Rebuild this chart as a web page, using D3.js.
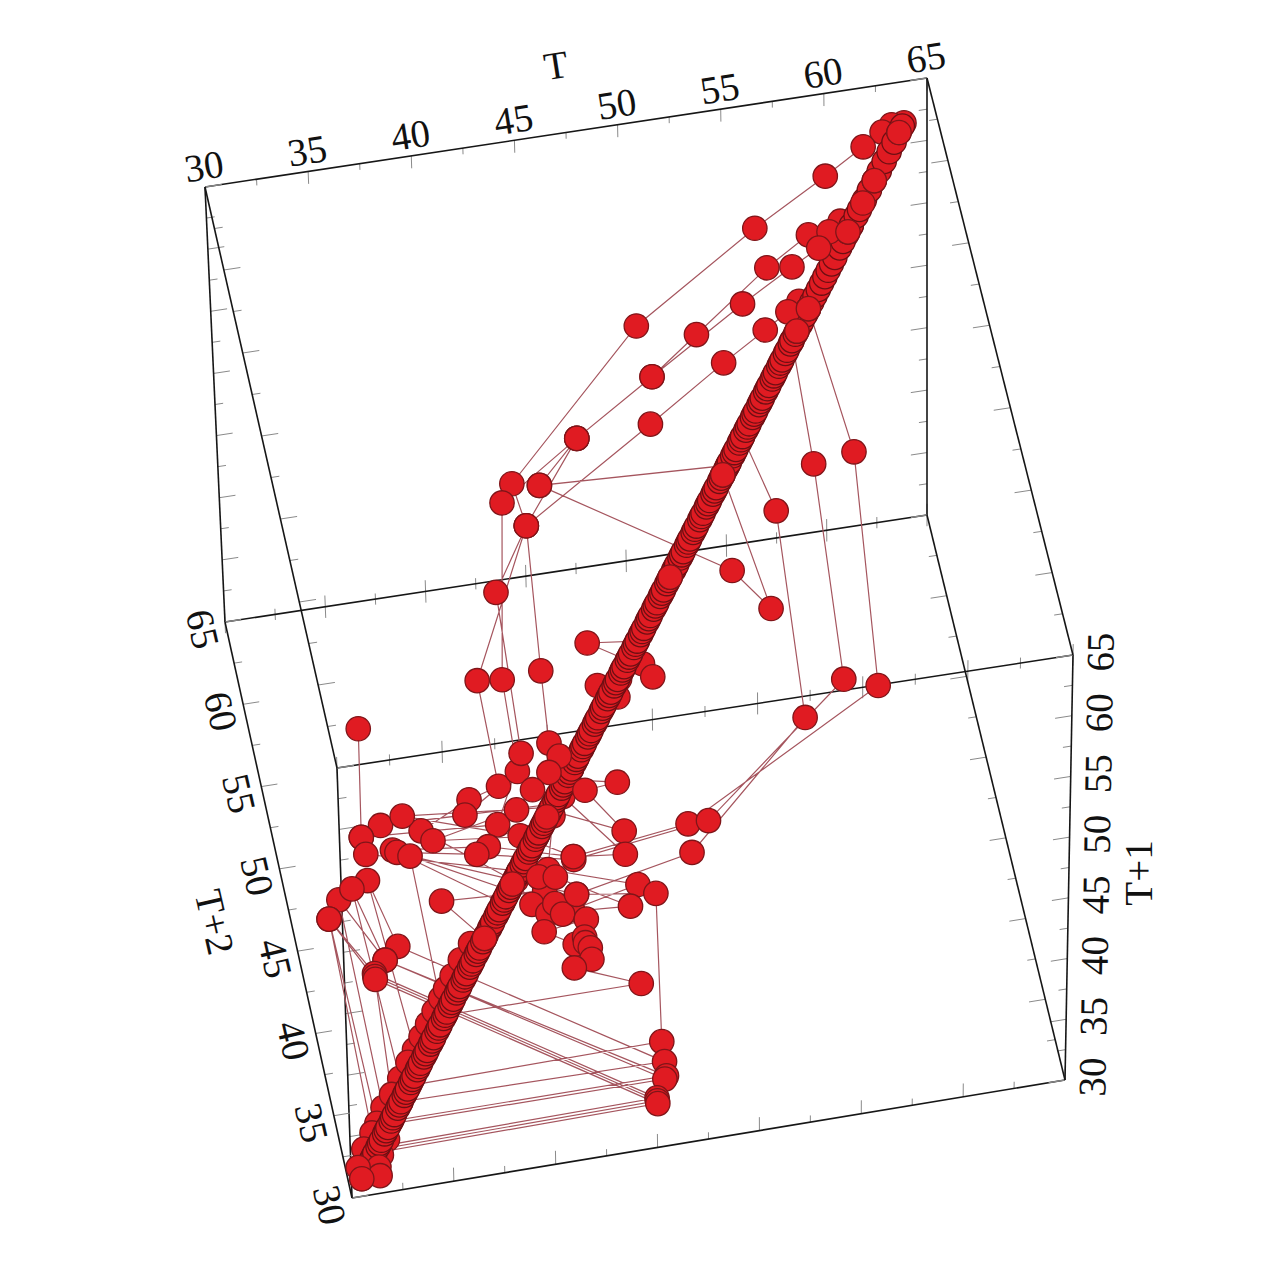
<!DOCTYPE html>
<html>
<head>
  <meta charset="utf-8">
  <title>Delay plot T, T+1, T+2</title>
  <script src="https://d3js.org/d3.v7.min.js"></script>
  <style>
    html, body { margin: 0; background: #fff; }
    text { font-family: "Liberation Serif", serif; fill: #111; text-anchor: middle; dominant-baseline: central; }
  </style>
</head>
<body>
<div id="chart"></div>

<script>
const majorTicks = [30, 35, 40, 45, 50, 55, 60, 65];
const minorTicks = [32.5, 37.5, 42.5, 47.5, 52.5, 57.5, 62.5];

// points lying on the diagonal T = T+1 = T+2
const diagonal = [30.6,30.8,30.9,31.0,31.2,31.3,31.4,31.6,31.7,31.8,32.0,32.1,32.2,32.4,32.5,32.6,32.8,32.9,33.0,33.2,33.3,33.4,33.6,33.7,33.8,34.0,34.1,34.2,34.4,34.5,34.6,34.8,34.9,35.0,35.2,35.3,35.4,35.6,35.7,35.8,36.0,36.1,36.2,36.4,36.5,36.6,36.8,36.9,37.0,37.2,37.3,37.4,37.6,37.7,37.8,38.0,38.1,38.2,38.4,38.5,38.6,38.8,38.9,39.0,39.2,39.3,39.4,39.6,39.7,39.8,40.0,40.1,40.2,40.4,40.5,40.6,40.8,40.9,41.0,41.2,41.3,41.4,41.6,41.7,41.8,42.0,42.1,42.2,42.4,42.5,42.6,42.8,42.9,43.0,43.2,43.3,43.4,43.6,43.7,43.8,44.0,44.1,44.2,44.4,44.5,44.6,44.8,44.9,45.0,45.2,45.3,45.4,45.6,45.7,45.8,46.0,46.1,46.2,46.4,46.5,46.6,46.8,46.9,47.0,47.2,47.3,47.4,47.6,47.7,47.8,48.0,48.1,48.2,48.4,48.5,48.6,48.8,48.9,49.0,49.2,49.3,49.4,49.6,49.7,49.8,50.0,50.1,50.2,50.4,50.5,50.6,50.8,50.9,51.0,51.2,51.3,51.4,51.6,51.7,51.8,52.0,52.1,52.2,52.4,52.5,52.6,52.8,52.9,53.0,53.2,53.3,53.4,53.6,53.7,53.8,54.0,54.1,54.2,54.4,54.5,54.6,54.8,54.9,55.0,55.2,55.3,55.4,55.6,55.7,55.8,56.0,56.1,56.2,56.4,56.5,56.7,56.8,57.0,57.1,57.3,57.4,57.6,57.8,58.0,58.2,58.4,58.6,58.8,59.0,59.2,59.4,59.7,59.9,60.2,60.4,60.7,60.9,61.2,61.5,61.8,62.1,62.4,62.7,63.0,63.3,63.5];

// diagonal points that sit in front of the rest of the band
const frontDiagonal = [38.1,39.8,41.9,49.4,52.6,57.1,57.8,60.2,61.1,61.8,63.3];

// the connected trajectory, in drawing order. A flat picture cannot give the depth
// of a point, so off the diagonal T+1 and T+2 are read as one value.
const tValues = [
  63.6,63.0,62.5,61.5,59.5,55.8,49.5,42.5,42.9,39.5,39.8,38.3,35.8,39.9,
  60.4,59.9,58.3,56.1,52.3,49.9,45.9,41.9,40.7,40.8,38.0,33.9,42.3,
  60.1,59.3,58.7,57.3,54.7,49.9,45.9,43.8,52.9,
  52.6,54.0,52.4,43.8,45.9,42.9,42.6,42.5,43.4,
  57.7,57.4,56.8,55.6,53.4,49.5,42.9,41.0,41.1,39.5,32.9,33.5,32.9,33.0,40.2,
  57.8,59.0,58.6,48.6,42.9,38.9,34.3,39.6,
  56.8,57.0,57.0,49.6,42.9,38.3,34.5,39.2,
  53.8,54.9,54.9,48.6,42.8,35.1,35.6,
  47.4,45.0,46.8,47.5,47.9,46.5,46.3,45.2,46.1,
  42.1,45.5,43.9,45.5,42.8,42.9,42.3,41.4,40.5,36.3,41.3,
  42.8,45.4,42.9,40.5,35.0,42.2,
  42.2,41.6,45.8,42.5,41.3,36.3,38.1,
  40.0,40.6,41.1,41.9,45.3,41.3,41.7,42.0,43.1,41.0,42.4,42.9,42.9,43.1,43.1,42.2,45.3,35.7,
  33.5,45.9,46.6,42.8,39.5,
  33.0,45.9,33.9,32.9,34.0,
  32.4,45.9,33.2,31.4,32.1,
  32.3,45.8,33.2,32.1,33.1,
  31.6,45.3,32.6,30.8,31.7,
  31.5,45.3,32.6,32.6,
  31.4,45.3,32.6,30.8,31.4,
  30.9,33.6,34.4,34.8,35.2,35.6,35.9,36.3,36.8,37.4,
  32.1,31.7,31.5,31.5,30.5,30.6
];
const tPlus1 = [
  63.6,63.6,63.4,63.0,62.2,60.8,58.1,53.4,51.9,46.9,43.2,42.9,42.1,39.9,
  60.4,60.6,60.3,59.4,57.5,56.3,54.6,52.8,46.8,43.6,42.4,42.5,42.3,
  60.1,60.3,59.8,59.3,58.3,56.3,54.6,53.2,52.9,
  52.6,47.8,49.3,53.2,54.6,51.9,46.9,44.4,43.4,
  57.7,58.1,57.8,57.3,56.4,54.7,51.9,49.8,44.2,41.9,42.2,45.9,42.2,41.6,40.2,
  57.8,52.7,44.6,40.9,40.4,41.2,41.6,39.6,
  56.8,52.5,45.0,40.9,40.3,41.0,41.5,39.2,
  53.8,51.1,43.9,39.9,39.1,41.3,35.8,
  47.4,47.6,46.8,46.6,46.1,46.5,46.2,46.1,45.6,
  42.1,41.0,42.6,42.7,43.1,43.9,43.4,42.9,42.3,41.7,41.3,
  42.5,40.2,40.4,41.4,42.7,42.2,
  41.9,40.1,39.1,38.6,39.4,39.6,38.1,
  39.9,39.0,39.9,39.8,38.4,38.6,38.9,38.5,38.2,38.0,37.4,37.6,37.4,37.2,36.8,36.6,35.7,35.7,
  33.5,33.6,38.7,39.1,39.5,
  33.0,32.9,38.3,40.7,34.7,
  32.4,32.4,37.9,40.2,32.9,
  32.3,32.3,37.9,40.5,33.8,
  31.6,31.7,37.5,39.6,32.4,
  31.5,31.6,37.4,33.3,
  31.4,31.5,37.3,39.6,32.1,
  31.6,34.3,35.1,35.5,35.9,36.3,36.6,37.0,37.5,38.0,
  31.8,31.3,30.9,30.6,31.0,30.6
];
const tPlus2 = tPlus1.slice();

const width = 1272, height = 1280;

// projected corners of the box, keyed by T, T+1, T+2 (0 = 30, 1 = 65)
const corners = {
  "000": [352, 1198], "100": [1065, 1080], "010": [337, 768], "110": [1073, 655],
  "001": [225, 622],  "101": [927, 515],   "011": [205, 187], "111": [927, 78]
};

const unit = d3.scaleLinear().domain([30, 65]).range([0, 1]);

function project(a, b, c) {
  const u = unit(a), v = unit(b), w = unit(c);
  let x = 0, y = 0;
  for (const key in corners) {
    const k = (key[0] == "1" ? u : 1 - u) * (key[1] == "1" ? v : 1 - v) * (key[2] == "1" ? w : 1 - w);
    x += k * corners[key][0];
    y += k * corners[key][1];
  }
  return [x, y];
}

const svg = d3.select("#chart").append("svg")
  .attr("width", width)
  .attr("height", height)
  .style("display", "block");

const frame = svg.append("g");

// one entry per box edge: axis that runs along it, fixed values of the other two,
// direction its ticks point in (index of the axis, sign, both sides or not)
const edges = [
  { axis: 0, fixed: [65, 65], dir: 1, sign: -1, len: 1 },
  { axis: 0, fixed: [30, 30], dir: 1, sign: 1, len: 1.1 },
  { axis: 0, fixed: [30, 65], dir: 1, sign: 1, len: 0.9, both: true },
  { axis: 0, fixed: [65, 30], dir: 1, sign: 1, len: 0.9, both: true },
  { axis: 1, fixed: [65, 30], dir: 0, sign: -1, len: 0.8 },
  { axis: 1, fixed: [65, 65], dir: 0, sign: -1, len: 0.8 },
  { axis: 1, fixed: [30, 30], dir: 0, sign: 1, len: 0.8 },
  { axis: 1, fixed: [30, 65], dir: 0, sign: 1, len: 0.8 },
  { axis: 2, fixed: [30, 30], dir: 0, sign: 1, len: 0.8 },
  { axis: 2, fixed: [65, 30], dir: 0, sign: -1, len: 0.8 },
  { axis: 2, fixed: [30, 65], dir: 0, sign: 1, len: 0.8 },
  { axis: 2, fixed: [65, 65], dir: 0, sign: -1, len: 0.8 }
];

function edgePoint(e, val, shift) {
  const p = [0, 0, 0];
  p[e.axis] = val;
  let i = 0;
  for (let k = 0; k < 3; k++) if (k != e.axis) p[k] = e.fixed[i++];
  p[e.dir] += shift;
  return project(p[0], p[1], p[2]);
}

edges.forEach(e => {
  [[majorTicks, 1], [minorTicks, 0.5]].forEach(([vals, f]) => {
    vals.forEach(val => {
      const a = edgePoint(e, val, e.sign * e.len * f);
      const b = edgePoint(e, val, e.both ? -e.sign * e.len * f : 0);
      frame.append("line")
        .attr("x1", a[0]).attr("y1", a[1]).attr("x2", b[0]).attr("y2", b[1])
        .attr("stroke", "#8a8a8a").attr("stroke-width", 1);
    });
  });
  const s = edgePoint(e, 30, 0), t = edgePoint(e, 65, 0);
  frame.append("line")
    .attr("x1", s[0]).attr("y1", s[1]).attr("x2", t[0]).attr("y2", t[1])
    .attr("stroke", "#161616").attr("stroke-width", 1.6);
});

// tick labels
const labels = svg.append("g").attr("font-size", 39);
const labelAxes = [
  { edge: edges[0], dx: -1, dy: -21, rot: -9 },
  { edge: edges[4], dx: 27, dy: -3, rot: -89 },
  { edge: edges[8], dx: -22, dy: 7, rot: 77 }
];
labelAxes.forEach(l => {
  majorTicks.forEach(val => {
    const p = edgePoint(l.edge, val, 0);
    labels.append("text")
      .attr("transform", `translate(${p[0] + l.dx},${p[1] + l.dy}) rotate(${l.rot})`)
      .text(val);
  });
});

// axis titles
const titles = [
  { text: "T", x: 556, y: 65, rot: -9 },
  { text: "T+1", x: 1138, y: 873, rot: -90 },
  { text: "T+2", x: 215, y: 922, rot: 77 }
];
labels.selectAll("text.title").data(titles).enter().append("text")
  .attr("class", "title")
  .attr("transform", d => `translate(${d.x},${d.y}) rotate(${d.rot})`)
  .text(d => d.text);

// trajectory line, then the markers on top of it
const series = tValues.map((d, i) => [d, tPlus1[i], tPlus2[i]]);
const line = d3.line().x(d => project(d[0], d[1], d[2])[0]).y(d => project(d[0], d[1], d[2])[1]);

svg.append("path")
  .attr("d", line(series))
  .attr("fill", "none")
  .attr("stroke", "#a5555e")
  .attr("stroke-width", 1.2);

function dots(data, edge) {
  svg.append("g").selectAll("circle")
    .data(data)
    .enter().append("circle")
      .attr("cx", d => project(d[0], d[1], d[2])[0])
      .attr("cy", d => project(d[0], d[1], d[2])[1])
      .attr("r", 12.2)
      .attr("fill", "#e01b22")
      .attr("stroke", edge)
      .attr("stroke-width", 1.3);
}

// points close to the diagonal go behind the band, the others in front
const behind = d => Math.abs(d[0] - d[1]) < 1 && d[1] > 31.1;
dots(series.filter(behind), "#7f1519");
dots(diagonal.map(d => [d, d, d]), "#6e0f13");
dots(series.filter(d => !behind(d)), "#7f1519");
dots(frontDiagonal.map(d => [d, d, d]), "#7f1519");
</script>
</body>
</html>
